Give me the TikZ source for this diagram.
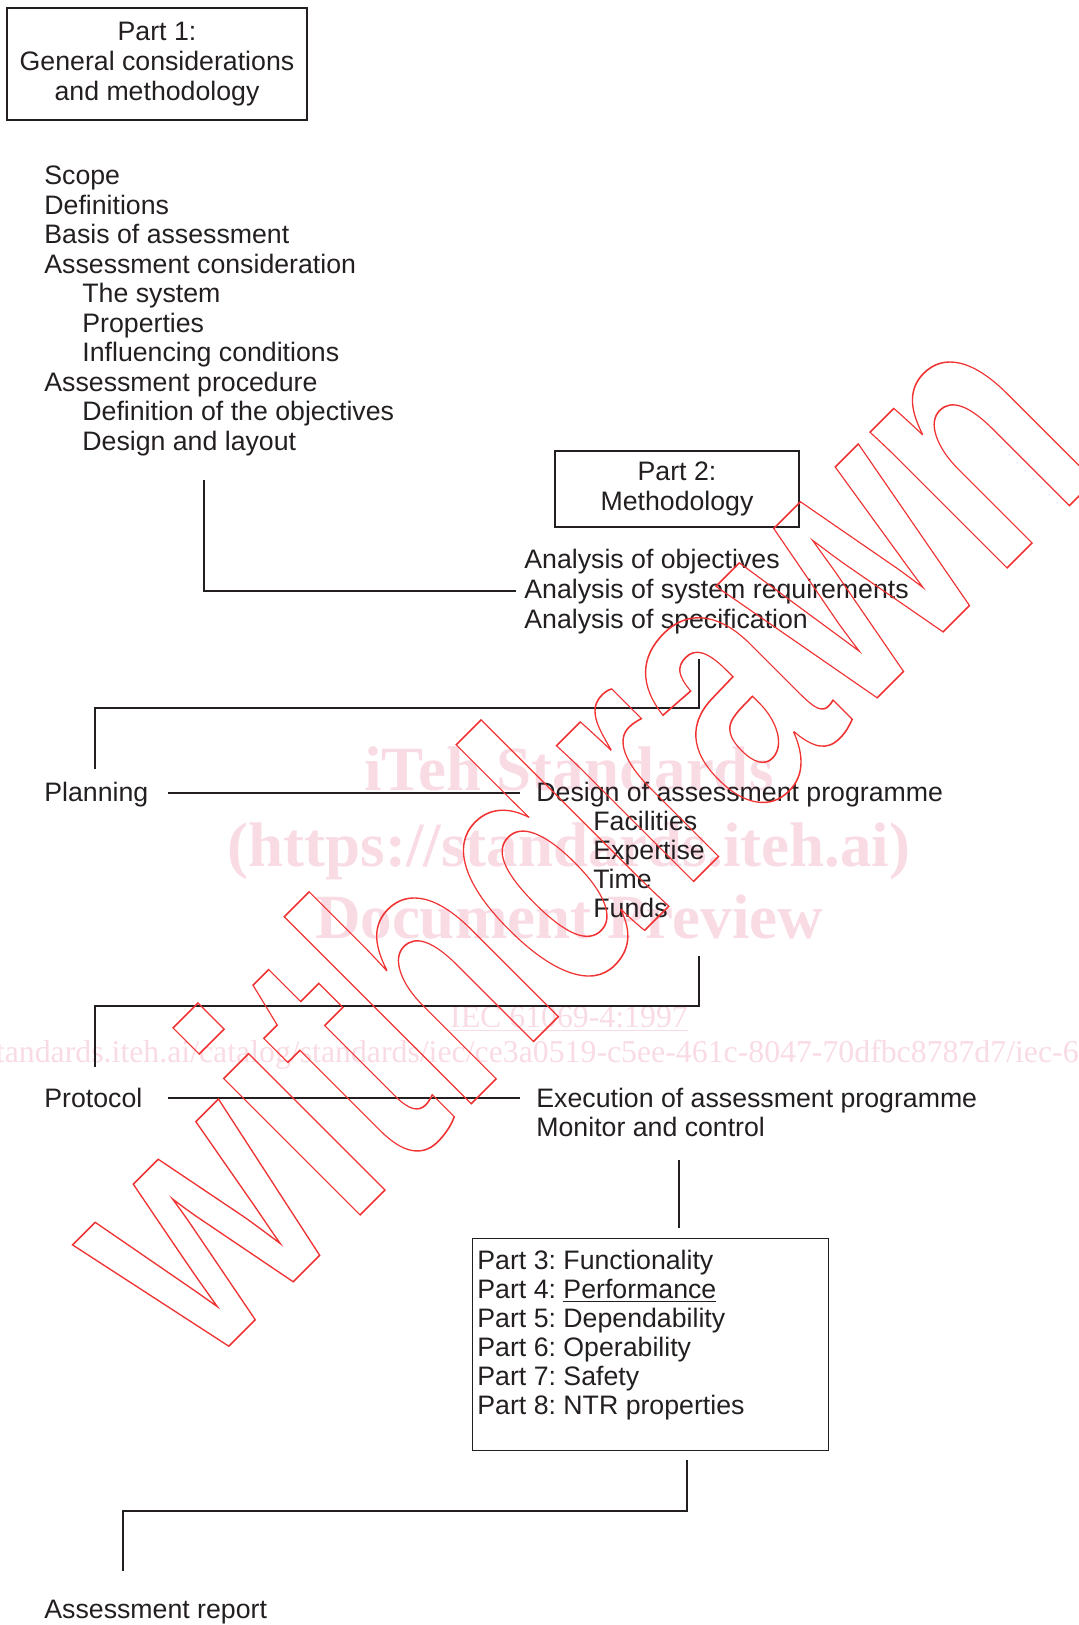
\documentclass[tikz,border=0pt]{standalone}
\usepackage{fontspec}
\setmainfont{Liberation Sans}
\newfontfamily\wmserif{Liberation Serif}
\usepackage{graphicx}
\usepackage{tikz}
\usetikzlibrary{calc}
\definecolor{ink}{RGB}{35,31,32}
\definecolor{wmpink}{RGB}{249,219,228}
\definecolor{wmred}{RGB}{240,50,50}
\frenchspacing
% outlined text for the stamp
\def\outlinetext#1{{\color{wmred}\special{pdf:literal direct 1 Tr 0.8 w 0.94 0.2 0.2 RG}#1\special{pdf:literal direct 0 Tr}}}
\tikzset{
	txt/.style={anchor=base west, inner sep=0pt, text=ink, font=\fontsize{13.35}{14.75}\selectfont},
	partbox/.style={draw=ink, line width=0.6pt, text=ink, align=center, inner sep=0pt, font=\fontsize{13.35}{15}\selectfont},
	link/.style={draw=ink, line width=0.65pt},
	pinkmark/.style={text=wmpink, inner sep=0pt, anchor=base, font=\wmserif\bfseries\fontsize{31.5}{31.5}\selectfont},
	pinksmall/.style={text=wmpink, inner sep=0pt, anchor=base, font=\wmserif\fontsize{15.9}{15.9}\selectfont}
}

\begin{document}
\begin{tikzpicture}[x=0.5pt, y=-0.5pt]
		\useasboundingbox (0,0) rectangle (1078,1625);
		
		%%%%% WATERMARK (BACK) %%%%%
		\node[pinkmark] (wm1) at (569,790) {iTeh Standards};
		\node[pinkmark] (wm2) at (569,866) {(https://standards.iteh.ai)};
		\node[pinkmark] (wm3) at (569,938) {Document Preview};
		\node[pinksmall] (wm4) at (569,1027) {\underline{IEC 61069-4:1997}};
		\node[pinksmall] (wm5) at (569,1062) {https://standards.iteh.ai/catalog/standards/iec/ce3a0519-c5ee-461c-8047-70dfbc8787d7/iec-61069-4-1997};
		
		%%%%% START %%%%%
		
		\node[partbox, minimum width=150pt, minimum height=56pt] (part1) at (157,64) {Part 1:\\General considerations\\and methodology};
		
		\foreach \x/\t [count=\i] in {44/Scope, 44/Definitions, 44/Basis of assessment, 44/Assessment consideration, 82/The system, 82/Properties, 82/Influencing conditions, 44/Assessment procedure, 82/Definition of the objectives, 82/Design and layout}
			\node[txt] (gen\i) at (\x, {185+29.5*(\i-1)}) {\t};
		
		\coordinate (c1a) at (204,480);
		\coordinate (c1b) at (516,591);
		\draw[link] (c1a) |- (c1b);
		
		\node[partbox, minimum width=122pt, minimum height=38pt] (part2) at (677,489) {Part 2:\\Methodology};
		
		\node[txt] (ana1) at (524,568) {Analysis of objectives};
		\node[txt] (ana2) at (524,598) {Analysis of system requirements};
		\node[txt] (ana3) at (524,628) {Analysis of specification};
		
		\coordinate (c2a) at (699,659);
		\coordinate (c2b) at (699,708);
		\coordinate (c2c) at (95,769);
		\draw[link] (c2a) -- (c2b) -| (c2c);
		
		\node[txt] (plan) at (44,801) {Planning};
		\coordinate (l1a) at (168,793);
		\coordinate (l1b) at (520,793);
		\draw[link] (l1a) -- (l1b);
		
		\node[txt] (design) at (536,801) {Design of assessment programme};
		\node[txt] (fac) at (593,830) {Facilities};
		\node[txt] (exp) at (593,859) {Expertise};
		\node[txt] (time) at (593,888) {Time};
		\node[txt] (fund) at (593,917) {Funds};
		
		\coordinate (c3a) at (699,956);
		\coordinate (c3b) at (699,1006);
		\coordinate (c3c) at (95,1067);
		\draw[link] (c3a) -- (c3b) -| (c3c);
		
		\node[txt] (proto) at (44,1107) {Protocol};
		\coordinate (l2a) at (168,1098);
		\coordinate (l2b) at (520,1098);
		\draw[link] (l2a) -- (l2b);
		
		\node[txt] (exec) at (536,1107) {Execution of assessment programme};
		\node[txt] (moni) at (536,1136) {Monitor and control};
		
		\coordinate (c4a) at (679,1160);
		\coordinate (c4b) at (679,1228);
		\draw[link] (c4a) -- (c4b);
		
		\node[partbox, anchor=north west, minimum width=178pt, minimum height=106pt] (parts) at (472,1238) {};
		\node[txt] (p3) at (477,1269) {Part 3: Functionality};
		\node[txt] (p4) at (477,1298) {Part 4: \underline{Performance}};
		\node[txt] (p5) at (477,1327) {Part 5: Dependability};
		\node[txt] (p6) at (477,1356) {Part 6: Operability};
		\node[txt] (p7) at (477,1385) {Part 7: Safety};
		\node[txt] (p8) at (477,1414) {Part 8: NTR properties};
		
		\coordinate (c5a) at (687,1460);
		\coordinate (c5b) at (687,1511);
		\coordinate (c5c) at (123,1571);
		\draw[link] (c5a) -- (c5b) -| (c5c);
		
		\node[txt] (report) at (44,1618) {Assessment report};
		
		%%%%% END %%%%%
		
		%%%%% WATERMARK (FRONT) %%%%%
		\node[rotate=45, xscale=0.705, anchor=base west, inner sep=0pt, font=\bfseries\fontsize{182.5}{182.5}\selectfont] (withdrawn) at (201,1374) {\outlinetext{\scalebox{1.174}[1]{\fontsize{132.3}{132.3}\selectfont W}ithdrawn}};
	\end{tikzpicture}
\end{document}
